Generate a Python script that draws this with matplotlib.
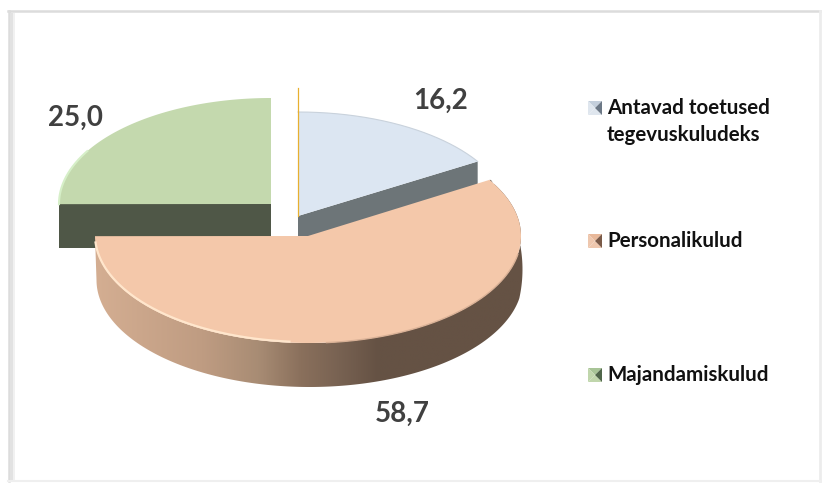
import numpy as np
import matplotlib
matplotlib.use("Agg")
import matplotlib.pyplot as plt
from matplotlib.colors import LinearSegmentedColormap
from matplotlib.patches import Polygon, Rectangle

# Data
categories = ["Antavad toetused\ntegevuskuludeks", "Personalikulud", "Majandamiskulud"]
values = [16.2, 58.7, 25.0]
value_labels = ["16,2", "58,7", "25,0"]

top_colors = ["#dce6f2", "#f4c8aa", "#c4d9ae"]
wall_colors = ["#6d7578", "#c9a286", "#4f5747"]

# pie geometry in pixels (y goes down)
centers = [(298, 216), (308, 236), (271, 204)]
radii = [(211, 104), (213, 107), (212, 106)]
DEPTH = 44


def arc(i, a0, a1, n=200, dy=0):
    # angles clockwise from 12 o'clock
    cx, cy = centers[i]
    rx, ry = radii[i]
    t = np.radians(np.linspace(a0, a1, n))
    return np.column_stack([cx + rx * np.sin(t), cy + dy - ry * np.cos(t)])


def fill(ax, xy, color, z):
    ax.add_patch(Polygon(xy, closed=True, fc=color, ec="none", zorder=z))


def legend_key(ax, x, y, light, mid, dark, s=14):
    # little bevelled square
    c = (x + s / 2, y + s / 2)
    a, b, d, e = (x, y), (x + s, y), (x + s, y + s), (x, y + s)
    fill(ax, [a, b, c], light, 5)
    fill(ax, [e, d, c], mid, 5)
    fill(ax, [a, e, c], mid, 5)
    fill(ax, [b, d, c], dark, 5)


fig = plt.figure(figsize=(8.22, 4.84), dpi=100)
ax = fig.add_axes([0, 0, 1, 1])
ax.set_xlim(0, 822)
ax.set_ylim(484, 0)
ax.axis("off")

# frame of the pasted chart
ax.plot([8.5, 8.5], [11, 481], color="#dcdcdc", lw=1.8, zorder=0)
ax.plot([8, 820], [11, 11], color="#dcdcdc", lw=1.8, zorder=0)
ax.plot([819.5, 819.5], [11, 481], color="#ececec", lw=2, zorder=0)
ax.plot([8, 820], [481, 481], color="#efefef", lw=1.5, zorder=0)
ax.add_patch(Rectangle((10, 13), 2.5, 467, fc="#e2e2e2", ec="none", zorder=0))
ax.add_patch(Rectangle((12.5, 13), 2.5, 467, fc="#f1f1f1", ec="none", zorder=0))

# slice angles
total = sum(values)
edges = np.concatenate([[0], np.cumsum(values) / total * 360])
a_blue = (edges[0], edges[1])
a_orange = (edges[1], edges[2])
a_green = (edges[2], edges[3])

# green slice
cx, cy = centers[2]
rx = radii[2][0]
fill(ax, [(cx - rx, cy), (cx, cy), (cx, cy + DEPTH), (cx - rx, cy + DEPTH)], wall_colors[2], 1)
fill(ax, np.vstack([[cx, cy], arc(2, *a_green)]), top_colors[2], 1.1)
ax.plot(*arc(2, a_green[0], a_green[0] + 30).T, color="#d6efc8", lw=1.5, zorder=1.2)

# blue slice
cx, cy = centers[0]
end = arc(0, a_blue[1], a_blue[1], n=1)[0]
fill(ax, [(cx, cy), end, end + [0, DEPTH], (cx, cy + DEPTH)], wall_colors[0], 2)
fill(ax, np.vstack([[cx, cy], arc(0, *a_blue)]), top_colors[0], 2.1)
ax.plot(*arc(0, *a_blue).T, color="#c9d2dc", lw=0.8, zorder=2.2)

# thin zero slice line
ax.plot([297.5, 297.5], [88, 216], color="#e8b030", lw=0.9, zorder=2.3)

# orange slice, side wall with gradient
cx, cy = centers[1]
rx, ry = radii[1]
outer = arc(1, *a_orange)
angles = np.linspace(a_orange[0], a_orange[1], 200)
ramp = np.clip((angles - a_orange[0]) / (100 - a_orange[0]), 0, 1) * DEPTH
low = outer + np.column_stack([np.full(200, 1.5), ramp])
low[:, 0] = np.minimum(low[:, 0], cx + rx + 1.5)
wall = np.vstack([outer, low[::-1]])
cmap = LinearSegmentedColormap.from_list(
    "side",
    [(0, "#d4ae92"), (0.25, "#bf9c82"), (0.38, "#a88c74"), (0.48, "#8a705c"),
     (0.57, "#786252"), (0.66, "#655244"), (1, "#655244")],
)
clip = Polygon(wall, closed=True, fc="none", ec="none", zorder=3)
ax.add_patch(clip)
im = ax.imshow(np.linspace(0, 1, 256)[None, :], cmap=cmap, aspect="auto",
               extent=(cx - rx, cx + rx + 2, cy + 160, cy - 70), zorder=3)
im.set_clip_path(clip)
ax.set_xlim(0, 822)
ax.set_ylim(484, 0)
fill(ax, np.vstack([[cx, cy], outer]), top_colors[1], 3.2)
# bevel along the front edge
ax.plot(*(arc(1, 185, 266) + [0, -1]).T, color="#ffe6cc", lw=1.6, zorder=3.3)
ax.plot(*arc(1, 100, 175).T, color="#d9b196", lw=1, zorder=3.3)

# value labels
label_pos = [(441, 101), (402, 414), (75, 118)]
for (x, y), txt in zip(label_pos, value_labels):
    ax.text(x, y, txt, ha="center", va="center", family="Lato", weight="bold",
            fontsize=20, color="#404040", zorder=6)

# legend
legend_y = [101, 234, 368]
text_y = [108, 241, 375]
key_cols = [("#c4cfdc", "#dfe6ee", "#6c7886"), ("#e8b89a", "#eec7ae", "#7a5a48"), ("#a8c497", "#c0d6ac", "#50664a")]
for y, ty, name, (l, m, d) in zip(legend_y, text_y, categories, key_cols):
    legend_key(ax, 588, y, l, m, d)
    lines = name.split("\n")
    for j, line in enumerate(lines):
        ax.text(607, ty + j * 27, line, ha="left", va="center",
                family="Lato", weight="bold", fontsize=14.8, color="#111111", zorder=6)

fig.savefig("out.png", dpi=100)
